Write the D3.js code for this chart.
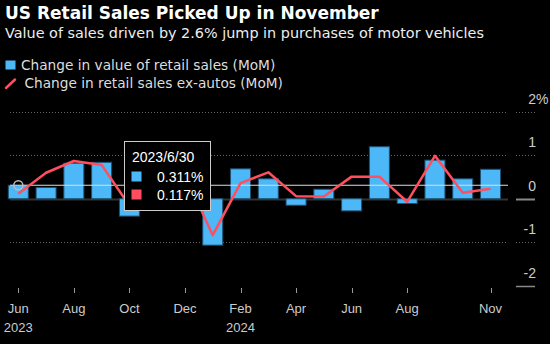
<!DOCTYPE html>
<html>
<head>
<meta charset="utf-8">
<script src="https://cdn.jsdelivr.net/npm/d3@7"></script>
<style>
  body { margin: 0; background: #000; }
  svg { display: block; }
</style>
</head>
<body>
<svg id="chart" width="550" height="344"></svg>
<script>
// monthly data, Jun 2023 - Nov 2024
const months = ["2023-06","2023-07","2023-08","2023-09","2023-10","2023-11","2023-12",
  "2024-01","2024-02","2024-03","2024-04","2024-05","2024-06","2024-07","2024-08",
  "2024-09","2024-10","2024-11"];
const dateLabels = ["2023/6/30","2023/7/31","2023/8/31","2023/9/30","2023/10/31","2023/11/30",
  "2023/12/31","2024/1/31","2024/2/29","2024/3/31","2024/4/30","2024/5/31","2024/6/30",
  "2024/7/31","2024/8/31","2024/9/30","2024/10/31","2024/11/30"];
const totalSales = [0.311, 0.26, 0.82, 0.84, -0.40, 0.20, 0.50, -1.07, 0.69, 0.46,
  -0.15, 0.22, -0.28, 1.20, -0.11, 0.89, 0.46, 0.68];
const exAutos = [0.117, 0.60, 0.87, 0.78, -0.16, 0.15, 0.56, -0.84, 0.36, 0.61,
  0.06, 0.05, 0.51, 0.51, -0.07, 0.99, 0.14, 0.23];

const yTicks = [2, 1, 0, -1, -2];
const xTickMonths = ["2023-06","2023-08","2023-10","2023-12","2024-02","2024-04","2024-06","2024-08","2024-11"];
const xTickLabels = ["Jun","Aug","Oct","Dec","Feb","Apr","Jun","Aug","Nov"];
const yearLabels = { "2023-06": "2023", "2024-02": "2024" };

const hoverIndex = 0;

const svg = d3.select("#chart");
const font = "'Liberation Sans', Arial, sans-serif";
const titleFont = "'DejaVu Sans', Verdana, sans-serif";

const plotLeft = 10, plotRight = 508;
const x = d3.scalePoint().domain(months).range([18.3, 490.5]);
const y = d3.scaleLinear().domain([-2, 2]).range([285.5, 112]);
const barW = x.step() * 0.72;

// title block
svg.append("text").attr("x", 5).attr("y", 18.5)
  .attr("font-family", titleFont).attr("font-weight", "bold").attr("font-size", 17)
  .attr("fill", "#fff").text("US Retail Sales Picked Up in November");
svg.append("text").attr("x", 5).attr("y", 37.5)
  .attr("font-family", titleFont).attr("font-size", 14.4)
  .attr("fill", "#eee").text("Value of sales driven by 2.6% jump in purchases of motor vehicles");

// legend
svg.append("rect").attr("x", 5.5).attr("y", 60.5).attr("width", 10).attr("height", 9)
  .attr("fill", "#4cb8f8");
svg.append("text").attr("x", 21).attr("y", 69.5)
  .attr("font-family", titleFont).attr("font-size", 13.7).attr("fill", "#ddd")
  .text("Change in value of retail sales (MoM)");
svg.append("line").attr("x1", 6).attr("y1", 88).attr("x2", 15).attr("y2", 79.5)
  .attr("stroke", "#ff4f5e").attr("stroke-width", 2.5).attr("stroke-linecap", "round");
svg.append("text").attr("x", 24.5).attr("y", 88)
  .attr("font-family", titleFont).attr("font-size", 13.7).attr("fill", "#ddd")
  .text("Change in retail sales ex-autos (MoM)");

// grid
const grid = svg.append("g");
yTicks.forEach(v => {
  const yy = Math.round(y(v)) + 0.5;
  if (v === 0) {
    grid.append("line").attr("x1", plotLeft).attr("x2", plotRight).attr("y1", yy).attr("y2", yy)
      .attr("stroke", "#333").attr("stroke-width", 2);
    grid.append("line").attr("x1", 516).attr("x2", 535).attr("y1", yy).attr("y2", yy)
      .attr("stroke", "#888").attr("stroke-width", 2);
  } else if (v === -2) {
    grid.append("line").attr("x1", 516).attr("x2", 535).attr("y1", yy).attr("y2", yy)
      .attr("stroke", "#888").attr("stroke-width", 1.5);
  } else {
    grid.append("line").attr("x1", plotLeft).attr("x2", plotRight).attr("y1", yy).attr("y2", yy)
      .attr("stroke", "#666").attr("stroke-dasharray", "1,2");
    grid.append("line").attr("x1", 516).attr("x2", 535).attr("y1", yy).attr("y2", yy)
      .attr("stroke", "#666").attr("stroke-dasharray", "1,2");
  }
  grid.append("text").attr("x", 536).attr("y", y(v) - 8)
    .attr("text-anchor", "end").attr("font-family", font).attr("font-size", 14)
    .attr("fill", "#ccc").text(v);
  if (v === 2) {
    grid.append("text").attr("x", 536).attr("y", y(v) - 8)
      .attr("font-family", font).attr("font-size", 14).attr("fill", "#ccc").text("%");
  }
});

// bars
svg.append("g").selectAll("rect").data(totalSales).join("rect")
  .attr("x", (d, i) => x(months[i]) - barW / 2)
  .attr("y", d => y(Math.max(0, d)))
  .attr("width", barW)
  .attr("height", d => Math.abs(y(d) - y(0)))
  .attr("fill", "#4cb8f8")
  .attr("stroke", "#1d4f70")
  .attr("stroke-width", 1);

// hover crosshair
svg.append("line").attr("x1", plotLeft).attr("x2", plotRight)
  .attr("y1", y(totalSales[hoverIndex])).attr("y2", y(totalSales[hoverIndex]))
  .attr("stroke", "#ddd").attr("stroke-width", 1);

// ex-autos line
const line = d3.line().x((d, i) => x(months[i])).y(d => y(d));
svg.append("path").datum(exAutos).attr("d", line)
  .attr("fill", "none").attr("stroke", "#ff4f5e").attr("stroke-width", 2.5)
  .attr("stroke-linejoin", "round");

svg.append("circle").attr("cx", x(months[hoverIndex])).attr("cy", y(totalSales[hoverIndex]))
  .attr("r", 4.5).attr("fill", "none").attr("stroke", "#bbb").attr("stroke-width", 1.5);

// x axis
const xa = svg.append("g");
xTickMonths.forEach((m, i) => {
  const xx = Math.round(x(m)) + 0.5;
  xa.append("line").attr("x1", xx).attr("x2", xx).attr("y1", 288).attr("y2", 293)
    .attr("stroke", "#999");
  xa.append("text").attr("x", x(m)).attr("y", 313).attr("text-anchor", "middle")
    .attr("font-family", font).attr("font-size", 13).attr("fill", "#ccc").text(xTickLabels[i]);
  if (yearLabels[m]) {
    xa.append("text").attr("x", x(m)).attr("y", 331.5).attr("text-anchor", "middle")
      .attr("font-family", font).attr("font-size", 13).attr("fill", "#ccc").text(yearLabels[m]);
  }
});

// tooltip
const tip = svg.append("g").attr("transform", "translate(124.5,141.5)");
tip.append("rect").attr("width", 86).attr("height", 69)
  .attr("fill", "#000").attr("stroke", "#ccc").attr("stroke-width", 1);
tip.append("text").attr("x", 7.5).attr("y", 20)
  .attr("font-family", font).attr("font-size", 14).attr("fill", "#fff")
  .text(dateLabels[hoverIndex]);
[[totalSales, "#4cb8f8"], [exAutos, "#ff4f5e"]].forEach(([series, color], k) => {
  const ry = 30 + k * 18;
  tip.append("rect").attr("x", 7).attr("y", ry).attr("width", 10).attr("height", 10).attr("fill", color);
  tip.append("text").attr("x", 79).attr("y", ry + 10).attr("text-anchor", "end")
    .attr("font-family", font).attr("font-size", 14).attr("fill", "#fff")
    .text(series[hoverIndex].toFixed(3) + "%");
});
</script>
</body>
</html>
